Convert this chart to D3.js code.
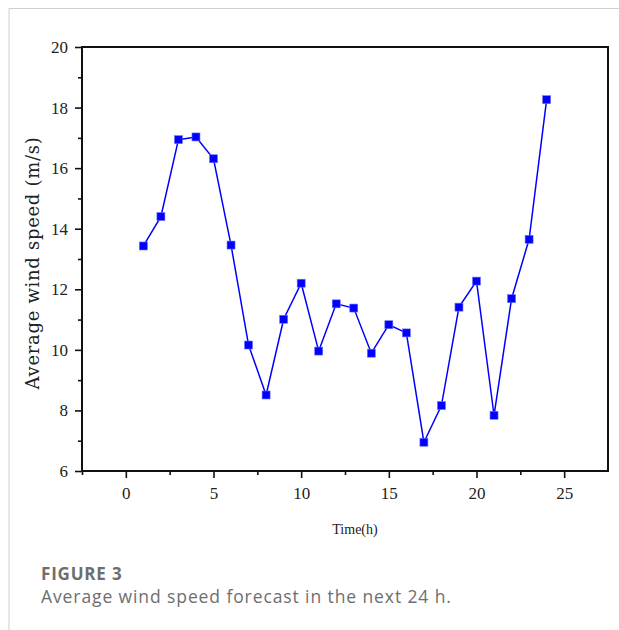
<!DOCTYPE html>
<html>
<head>
<meta charset="utf-8">
<script src="https://cdn.jsdelivr.net/npm/d3@7"></script>
<style>
  body { margin: 0; background: #fff; }
  svg { display: block; }
</style>
</head>
<body>
<div id="chart"></div>
<script>
// hours and forecast wind speed (m/s)
const hours = [1, 2, 3, 4, 5, 6, 7, 8, 9, 10, 11, 12, 13, 14, 15, 16, 17, 18, 19, 20, 21, 22, 23, 24];
const speeds = [13.43, 14.4, 16.94, 17.03, 16.31, 13.46, 10.16, 8.51, 11.01, 12.2, 9.96, 11.52,
                11.38, 9.89, 10.83, 10.56, 6.95, 8.16, 11.41, 12.27, 7.84, 11.69, 13.65, 18.26];
const xTicks = [0, 5, 10, 15, 20, 25];
const xMinor = [-2.5, 2.5, 7.5, 12.5, 17.5, 22.5];
const yTicks = [6, 8, 10, 12, 14, 16, 18, 20];
const yMinor = [7, 9, 11, 13, 15, 17, 19];

const W = 619, H = 630;
const plot = { left: 82, right: 608, top: 47, bottom: 471 };

const svg = d3.select('#chart').append('svg')
    .attr('width', W)
    .attr('height', H);

// light frame of the figure panel
svg.append('path')
    .attr('d', `M9,${H} V8.5 H${W}`)
    .style('fill', 'none')
    .style('stroke', '#cfcfcf')
    .style('stroke-width', 1);

const x = d3.scaleLinear().domain([-2.5, 27.5]).range([plot.left, plot.right]);
const y = d3.scaleLinear().domain([6, 20]).range([plot.bottom, plot.top]);

const serif = '"Liberation Serif", "Times New Roman", serif';

// box around plot area
svg.append('rect')
    .attr('x', plot.left)
    .attr('y', plot.top)
    .attr('width', plot.right - plot.left)
    .attr('height', plot.bottom - plot.top)
    .style('fill', 'none')
    .style('stroke', '#111')
    .style('stroke-width', 2);

// x axis
svg.append('g')
    .attr('transform', `translate(0,${plot.bottom})`)
    .call(d3.axisBottom(x).tickValues(xTicks).tickSize(7).tickPadding(9).tickFormat(d3.format('d')));
svg.append('g')
    .attr('transform', `translate(0,${plot.bottom})`)
    .call(d3.axisBottom(x).tickValues(xMinor).tickSize(4).tickFormat(''));

// y axis
svg.append('g')
    .attr('transform', `translate(${plot.left},0)`)
    .call(d3.axisLeft(y).tickValues(yTicks).tickSize(7).tickPadding(7).tickFormat(d3.format('d')));
svg.append('g')
    .attr('transform', `translate(${plot.left},0)`)
    .call(d3.axisLeft(y).tickValues(yMinor).tickSize(4).tickFormat(''));

svg.selectAll('.domain').remove();
svg.selectAll('.tick line')
    .style('stroke', '#111')
    .style('stroke-width', 1.6);
svg.selectAll('.tick text')
    .style('font-family', serif)
    .style('font-size', '17px')
    .style('fill', '#222');

// axis titles
svg.append('text')
    .attr('x', 355)
    .attr('y', 534)
    .attr('text-anchor', 'middle')
    .style('font-family', serif)
    .style('font-size', '14px')
    .style('fill', '#222')
    .text('Time(h)');

svg.append('text')
    .attr('transform', 'translate(39,263) rotate(-90)')
    .attr('text-anchor', 'middle')
    .style('font-family', '"DejaVu Serif", serif')
    .style('font-size', '18px')
    .style('letter-spacing', '0.7px')
    .style('fill', '#222')
    .text('Average wind speed (m/s)');

// series line
const line = d3.line()
    .x((d, i) => x(hours[i]))
    .y(d => y(d));

svg.append('path')
    .datum(speeds)
    .attr('d', line)
    .style('fill', 'none')
    .style('stroke', '#0000ff')
    .style('stroke-width', 1.5);

// square markers
const ms = 8;
svg.selectAll('.pt')
    .data(speeds)
    .enter()
    .append('rect')
    .attr('class', 'pt')
    .attr('x', (d, i) => x(hours[i]) - ms / 2)
    .attr('y', d => y(d) - ms / 2)
    .attr('width', ms)
    .attr('height', ms)
    .style('fill', '#0000ff')
    .style('stroke', '#6f6fff')
    .style('stroke-width', 0.6);

// caption
svg.append('text')
    .attr('x', 41)
    .attr('y', 580)
    .style('font-family', '"Open Sans", sans-serif')
    .style('font-size', '17px')
    .style('font-weight', 'bold')
    .style('letter-spacing', '0.8px')
    .style('fill', '#6e6e6e')
    .text('FIGURE 3');

svg.append('text')
    .attr('x', 41)
    .attr('y', 603)
    .style('font-family', '"Open Sans", sans-serif')
    .style('font-size', '17.5px')
    .style('letter-spacing', '0.9px')
    .style('fill', '#6e6e6e')
    .text('Average wind speed forecast in the next 24 h.');
</script>
</body>
</html>
